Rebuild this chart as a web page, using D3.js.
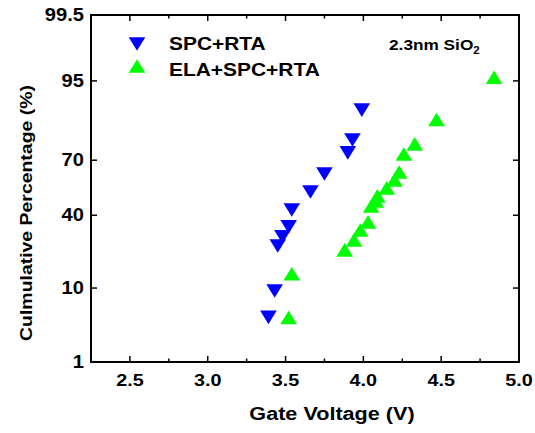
<!DOCTYPE html>
<html>
<head>
<meta charset="utf-8">
<script src="https://cdn.jsdelivr.net/npm/d3@7"></script>
<style>
  body { margin: 0; background: #fff; }
  text { font-family: "Liberation Sans", Arial, sans-serif; font-weight: bold; fill: #000; }
</style>
</head>
<body>
<div id="chart"></div>
<script>
// data
var xTicks = [2.5, 3.0, 3.5, 4.0, 4.5, 5.0];
var xMinor = [2.75, 3.25, 3.75, 4.25, 4.75];
var yTicks = [1, 10, 40, 70, 95, 99.5];

var spcVolt = [3.39, 3.43, 3.45, 3.48, 3.52, 3.54, 3.66, 3.75, 3.90, 3.93, 3.99];
var spcPct  = [4.5, 9.3, 24.6, 28.8, 33.8, 42.9, 53, 62.9, 73.5, 79.1, 89.1];

var elaVolt = [3.52, 3.54, 3.88, 3.94, 3.98, 4.03, 4.05, 4.08, 4.09, 4.15, 4.20, 4.23, 4.26, 4.33, 4.47, 4.84];
var elaPct  = [4.5, 14.0, 22.9, 27.4, 32.2, 36.4, 45.1, 48, 50.8, 55.3, 59.7, 64, 73, 77.5, 86.4, 95.5];

// inverse normal cdf (Acklam) for the probability axis
function probit(p) {
  var a = [-3.969683028665376e+01, 2.209460984245205e+02, -2.759285104469687e+02, 1.383577518672690e+02, -3.066479806614716e+01, 2.506628277459239e+00];
  var b = [-5.447609879822406e+01, 1.615858368580409e+02, -1.556989798598866e+02, 6.680131188771972e+01, -1.328068155288572e+01];
  var c = [-7.784894002430293e-03, -3.223964580411365e-01, -2.400758277161838e+00, -2.549671010115819e+00, 4.374664141464968e+00, 2.938163982698783e+00];
  var d = [7.784695709041462e-03, 3.224671290700398e-01, 2.445134137142996e+00, 3.754408661907416e+00];
  var pl = 0.02425, q, r;
  if (p < pl) {
    q = Math.sqrt(-2 * Math.log(p));
    return (((((c[0]*q+c[1])*q+c[2])*q+c[3])*q+c[4])*q+c[5]) / ((((d[0]*q+d[1])*q+d[2])*q+d[3])*q+1);
  }
  if (p > 1 - pl) {
    q = Math.sqrt(-2 * Math.log(1 - p));
    return -(((((c[0]*q+c[1])*q+c[2])*q+c[3])*q+c[4])*q+c[5]) / ((((d[0]*q+d[1])*q+d[2])*q+d[3])*q+1);
  }
  q = p - 0.5; r = q * q;
  return (((((a[0]*r+a[1])*r+a[2])*r+a[3])*r+a[4])*r+a[5])*q / (((((b[0]*r+b[1])*r+b[2])*r+b[3])*r+b[4])*r+1);
}

var width = 535, height = 433;
var pLeft = 91, pRight = 519, pTop = 15, pBottom = 362;
var sx = 1.15; // the original lettering is a little wide

var x = d3.scaleLinear().domain([2.25, 5.0]).range([pLeft, pRight]);
var z = d3.scaleLinear().domain([probit(0.01), probit(0.995)]).range([pBottom, pTop]);
function y(pct) { return z(probit(pct / 100)); }

var svg = d3.select("#chart").append("svg")
  .attr("width", width)
  .attr("height", height);

function label(px, py, size, anchor, txt, extra) {
  return svg.append("text")
    .attr("transform", "translate(" + px + "," + py + ")" + (extra || "") + " scale(" + sx + ",1)")
    .attr("font-size", size)
    .attr("text-anchor", anchor)
    .text(txt);
}

// ticks (inward, on all four sides)
var tickG = svg.append("g").attr("stroke", "#000").attr("stroke-width", 1.5);
xTicks.forEach(function(v) {
  tickG.append("line").attr("x1", x(v)).attr("x2", x(v)).attr("y1", pBottom).attr("y2", pBottom - 6);
  tickG.append("line").attr("x1", x(v)).attr("x2", x(v)).attr("y1", pTop).attr("y2", pTop + 6);
});
xMinor.forEach(function(v) {
  tickG.append("line").attr("x1", x(v)).attr("x2", x(v)).attr("y1", pBottom).attr("y2", pBottom - 3.5);
  tickG.append("line").attr("x1", x(v)).attr("x2", x(v)).attr("y1", pTop).attr("y2", pTop + 3.5);
});
yTicks.forEach(function(v) {
  tickG.append("line").attr("x1", pLeft).attr("x2", pLeft + 6).attr("y1", y(v)).attr("y2", y(v));
  tickG.append("line").attr("x1", pRight).attr("x2", pRight - 6).attr("y1", y(v)).attr("y2", y(v));
});

// frame
svg.append("rect")
  .attr("x", pLeft).attr("y", pTop)
  .attr("width", pRight - pLeft).attr("height", pBottom - pTop)
  .attr("fill", "none").attr("stroke", "#000").attr("stroke-width", 2);

// tick labels
xTicks.forEach(function(v) { label(x(v), 386, 17.2, "middle", v.toFixed(1)); });
yTicks.forEach(function(v) { label(84, y(v) + 6, 17.5, "end", v); });

// axis titles
label(332, 420, 18.8, "middle", "Gate Voltage (V)");
label(32, 213, 16.9, "middle", "Culmulative Percentage (%)", " rotate(-90)");

// markers
function tri(cx, cy, up) {
  var w = 8.3, h = 6.8;
  if (up) return "M" + (cx - w) + "," + (cy + h) + "L" + (cx + w) + "," + (cy + h) + "L" + cx + "," + (cy - h) + "Z";
  return "M" + (cx - w) + "," + (cy - h) + "L" + (cx + w) + "," + (cy - h) + "L" + cx + "," + (cy + h) + "Z";
}

var spc = spcVolt.map(function(v, i) { return { v: v, p: spcPct[i] }; });
var ela = elaVolt.map(function(v, i) { return { v: v, p: elaPct[i] }; });

svg.append("g").selectAll("path").data(spc).enter().append("path")
  .attr("d", function(d) { return tri(x(d.v), y(d.p), false); })
  .attr("fill", "#0000ff");

svg.append("g").selectAll("path").data(ela).enter().append("path")
  .attr("d", function(d) { return tri(x(d.v), y(d.p), true); })
  .attr("fill", "#00ff00");

// legend
svg.append("path").attr("d", tri(137, 44, false)).attr("fill", "#0000ff");
svg.append("path").attr("d", tri(137, 66, true)).attr("fill", "#00ff00");
label(169, 50, 18.2, "start", "SPC+RTA");
label(169, 76, 18.2, "start", "ELA+SPC+RTA");

var note = label(389, 50, 15, "start", "");
note.append("tspan").text("2.3nm SiO");
note.append("tspan").attr("font-size", 10).attr("dy", 4).text("2");
</script>
</body>
</html>
